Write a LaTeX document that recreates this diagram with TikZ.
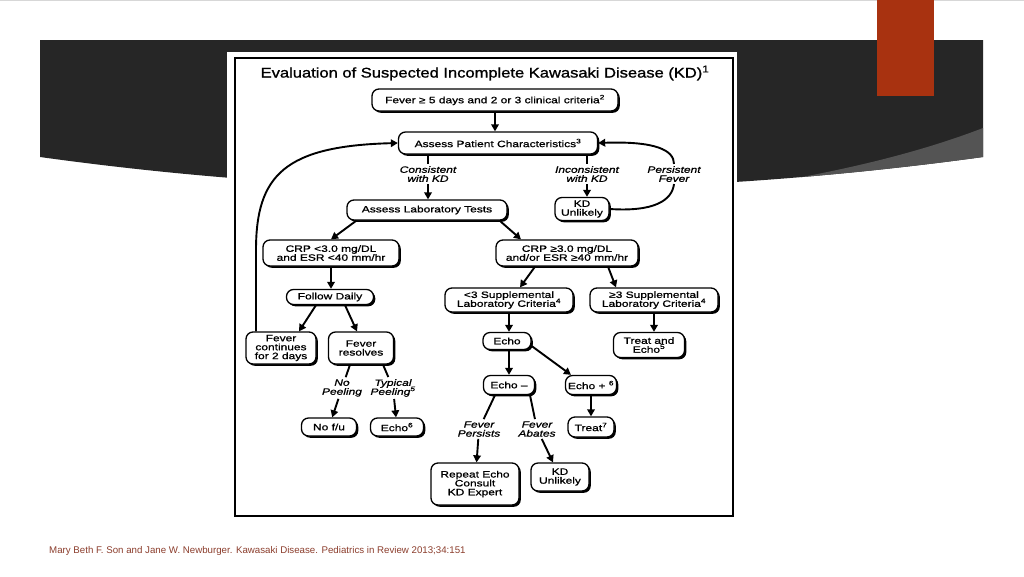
\documentclass[tikz,border=0pt]{standalone}
\usepackage{fontspec}
\setmainfont{Liberation Sans}
\newfontfamily\nodefont{Liberation Sans}[FakeStretch=1.3, FakeBold=1]
\newfontfamily\titlefont{Liberation Sans}[FakeStretch=1.18, FakeBold=1.2]
\usetikzlibrary{shadows,arrows.meta}
\definecolor{bandc}{RGB}{38,38,38}
\definecolor{wedgec}{RGB}{84,84,84}
\definecolor{redbar}{RGB}{168,50,16}
\definecolor{footc}{RGB}{140,62,45}
\definecolor{topline}{RGB}{215,215,215}
\lineskiplimit=-100pt\relax
\begin{document}
\begin{tikzpicture}[x=1pt,y=-1pt,
  nd/.style={draw, line width=1.3pt, rounded corners=7pt, fill=white, align=center, inner sep=1pt,
     font=\nodefont\fontsize{9.2}{8.9}\selectfont,
     drop shadow={shadow xshift=1.8pt, shadow yshift=-1.8pt, fill=black, opacity=1}},
  lbl/.style={align=center, inner sep=2pt, font=\nodefont\itshape\fontsize{9.2}{9}\selectfont},
  ln/.style={line width=1.9pt},
  arr/.style={line width=1.9pt, -{Triangle[length=7pt,width=7.5pt]}}]
% slide background
\useasboundingbox (0,0) rectangle (1024,576);
\fill[white] (0,0) rectangle (1024,576);
\draw[topline, line width=1pt] (0,0.5) -- (1024,0.5);
\fill[bandc] (40,40) -- (983,40) -- (983,157) .. controls (670,200) and (350,200) .. (40,157) -- cycle;
\begin{scope}
\clip (40,40) -- (983,40) -- (983,157) .. controls (670,200) and (350,200) .. (40,157) -- cycle;
\fill[wedgec] (983,128) .. controls (900,160) and (800,180) .. (690,195) -- (690,260) -- (983,260) -- cycle;
\end{scope}
\fill[redbar] (877,0) rectangle (934,96);
% image
\fill[white] (227,52) rectangle (737,521);
\draw[line width=1.4pt] (235,58) rectangle (733,516);
\node[font=\titlefont\fontsize{14}{16}\selectfont] (title) at (485,73) {Evaluation of Suspected Incomplete Kawasaki Disease (KD)\textsuperscript{1}};
% boxes
\node[nd, minimum width=246pt, minimum height=22pt] (n1) at (495,100) {Fever ≥ 5 days and 2 or 3 clinical criteria\textsuperscript{2}};
\node[nd, minimum width=199pt, minimum height=22pt] (n2) at (498,143) {Assess Patient Characteristics\textsuperscript{3}};
\node[nd, minimum width=160pt, minimum height=20pt] (lab) at (427,210) {Assess Laboratory Tests};
\node[nd, minimum width=54pt, minimum height=23pt] (kdu1) at (582,209) {KD\\Unlikely};
\node[nd, minimum width=136pt, minimum height=26pt] (crpL) at (331,253) {CRP <3.0 mg/DL\\and ESR <40 mm/hr};
\node[nd, minimum width=142pt, minimum height=26pt] (crpH) at (567,253) {CRP ≥3.0 mg/DL\\and/or ESR ≥40 mm/hr};
\node[nd, minimum width=87pt, minimum height=15pt] (follow) at (330,297) {Follow Daily};
\node[nd, minimum width=70pt, minimum height=32pt] (fcont) at (281,348) {Fever\\continues\\for 2 days};
\node[nd, minimum width=65pt, minimum height=32pt] (fres) at (361,348) {Fever\\resolves};
\node[nd, minimum width=128pt, minimum height=24pt] (supL) at (509,300) {<3 Supplemental\\Laboratory Criteria\textsuperscript{4}};
\node[nd, minimum width=128pt, minimum height=24pt] (supH) at (654,300) {≥3 Supplemental\\Laboratory Criteria\textsuperscript{4}};
\node[nd, minimum width=48pt, minimum height=17pt] (echo) at (507,341) {Echo};
\node[nd, minimum width=71pt, minimum height=25pt] (trecho) at (649,345) {Treat and\\Echo\textsuperscript{5}};
\node[nd, minimum width=51pt, minimum height=19pt] (echom) at (509,385) {Echo –};
\node[nd, minimum width=51pt, minimum height=19pt] (echop) at (591,385) {Echo + \textsuperscript{6}};
\node[nd, minimum width=55pt, minimum height=18pt] (nofu) at (329,427) {No f/u};
\node[nd, minimum width=53pt, minimum height=18pt] (echo6) at (397,427) {Echo\textsuperscript{6}};
\node[nd, minimum width=46pt, minimum height=20pt] (treat7) at (591,427) {Treat\textsuperscript{7}};
\node[nd, minimum width=88pt, minimum height=42pt] (repeat) at (475,484) {Repeat Echo\\Consult\\KD Expert};
\node[nd, minimum width=58pt, minimum height=28pt] (kdu2) at (560,477) {KD\\Unlikely};
% labels
\node[lbl] (cons) at (428,174) {Consistent\\with KD};
\node[lbl] (incons) at (587,174) {Inconsistent\\with KD};
\node[lbl] (pers) at (674,174) {Persistent\\Fever};
\node[lbl] (nopeel) at (342,388) {No\\Peeling};
\node[lbl] (typ) at (393,388) {Typical\\Peeling\textsuperscript{5}};
\node[lbl] (fpers) at (479,429) {Fever\\Persists};
\node[lbl] (fab) at (537,429) {Fever\\Abates};
% connectors
\draw[arr] (n1.south) -- (n1.south |- n2.north);
\draw[ln] (cons.north |- n2.south) -- (cons.north);
\draw[arr] (cons.south) -- (cons.south |- lab.north);
\draw[ln] (incons.north |- n2.south) -- (incons.north);
\draw[arr] (incons.south) -- (incons.south |- kdu1.north);
\draw[ln] (kdu1.east) .. controls (655,212) and (672,200) .. (pers.south);
\draw[arr] (pers.north) .. controls (674,150) and (655,141) .. (n2.east);
\coordinate (lp) at (256,250);
\draw[arr] (fcont.north -| lp) -- (lp) .. controls (256,175) and (285,146) .. (n2.west);
\draw[arr] ([xshift=10pt]lab.south west) -- (crpL.north);
\draw[arr] ([xshift=-8pt]lab.south east) -- ([xshift=-46pt]crpH.north);
\draw[arr] (crpL.south) -- (crpL.south |- follow.north);
\draw[arr] ([xshift=-14pt]follow.south) -- ([xshift=18pt]fcont.north);
\draw[arr] ([xshift=15pt]follow.south) -- ([xshift=-4pt]fres.north);
\draw[ln] ([xshift=-11pt]fres.south) -- (nopeel);
\draw[ln] ([xshift=22pt]fres.south) -- (typ);
\draw[arr] (nopeel) -- (nofu);
\draw[arr] (typ) -- (echo6);
\draw[arr] ([xshift=-32pt]crpH.south) -- ([xshift=11pt]supL.north);
\draw[arr] ([xshift=41pt]crpH.south) -- ([xshift=-38pt]supH.north);
\draw[arr] (supL.south) -- (supL.south |- echo.north);
\draw[arr] (supH.south) -- (supH.south |- trecho.north);
\draw[arr] (echom.north |- echo.south) -- (echom.north);
\draw[arr] ([yshift=-5pt]echo.east) -- ([xshift=-20pt]echop.north);
\draw[arr] (echop.south) -- (echop.south |- treat7.north);
\draw[ln] ([xshift=-14pt]echom.south) -- (fpers);
\draw[ln] ([xshift=21pt]echom.south) -- (fab);
\draw[arr] (fpers) -- (repeat);
\draw[arr] (fab) -- (kdu2);
% footer
\node[anchor=west, text=footc, font=\fontsize{9.7}{11}\selectfont, inner sep=0pt] (foot) at (49,551) {Mary Beth F. Son and Jane W. Newburger. Kawasaki Disease. Pediatrics in Review 2013;34:151};
\end{tikzpicture}
\end{document}
